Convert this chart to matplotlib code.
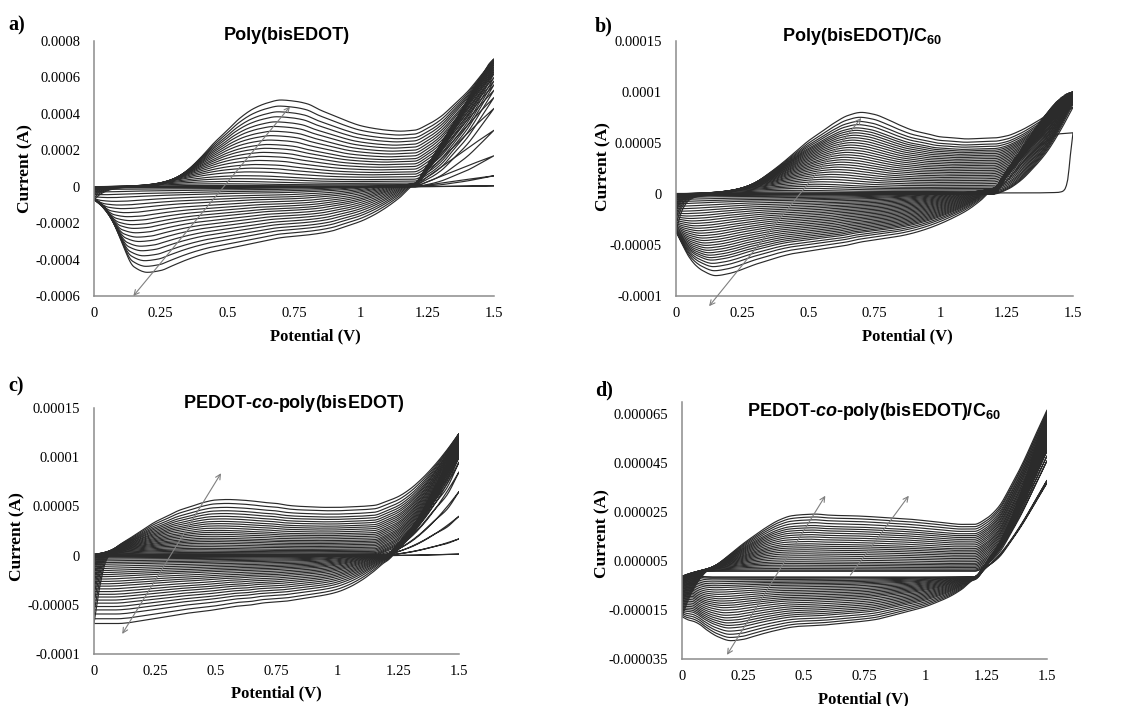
import numpy as np
import matplotlib
matplotlib.use('Agg')
import matplotlib.pyplot as plt

plt.rcParams['font.family'] = ['Liberation Serif', 'DejaVu Serif']
plt.rcParams['mathtext.fontset'] = 'custom'
plt.rcParams['mathtext.rm'] = 'Liberation Sans:bold'
plt.rcParams['mathtext.bf'] = 'Liberation Sans:bold'
plt.rcParams['mathtext.it'] = 'Liberation Sans:italic:bold'

# potentials (V) at which the outer (last) cycle was read
E_pts = [0, 0.025, 0.05, 0.075, 0.1, 0.15, 0.2, 0.25, 0.3, 0.35, 0.4, 0.45, 0.5, 0.55,
         0.6, 0.65, 0.7, 0.75, 0.8, 0.85, 0.9, 0.95, 1.0, 1.05, 1.1, 1.15, 1.2, 1.25,
         1.3, 1.35, 1.4, 1.45, 1.5]

# all currents in microamps
# a) Poly(bisEDOT): polymer part of last cycle, forward / reverse scan
a_fwd = [-70, -40, -22, -12, -6, -1, 3, 12, 40, 90, 160, 240, 310, 380, 430, 460, 476, 470,
         455, 420, 390, 360, 335, 320, 310, 305, 310, 315, 320, 325, 330, 335, 340]
a_rev = [-70, -100, -130, -200, -290, -440, -470, -460, -430, -400, -375, -355, -340, -325,
         -310, -295, -280, -272, -265, -255, -240, -215, -190, -155, -110, -55, 10, 30, 70,
         130, 200, 270, 340]
a_wf = [0] * 27 + [0.07, 0.18, 0.35, 0.53, 0.76, 1.0]   # monomer oxidation shape
a_wr = [0] * 27 + [0.16, 0.33, 0.5, 0.67, 0.84, 1.0]
a_k = [0, 0, 0, 0.015, 0.034, 0.061, 0.093, 0.127, 0.171, 0.214, 0.256, 0.303, 0.35, 0.396,
       0.443, 0.487, 0.538, 0.589, 0.64, 0.695, 0.748, 0.807, 0.864, 0.93, 1.0]
a_end = [5, 60, 170, 310, 430, 490, 530, 560, 580, 600, 620, 630, 640, 650, 660, 670, 680,
         680, 690, 690, 700, 700, 700, 700, 700]

# b) Poly(bisEDOT)/C60
b_fwd = [-36, -15, -6, -3, -2, -1, 1.5, 5, 11, 20, 30, 41, 52, 61, 70, 77, 80, 78, 73, 67,
         62, 59, 56, 55, 54, 54.5, 55, 55, 56, 57, 58, 59, 60]
b_rev = [-36, -50, -62, -70, -75, -80, -78, -74, -69, -65, -61, -58, -56, -54, -52, -50, -47,
         -45, -43, -41, -38, -34, -29, -23, -16, -6.5, 5, 10, 17, 25, 34, 46, 60]
b_wf = [0] * 27 + [0.05, 0.15, 0.3, 0.48, 0.72, 1.0]
b_wr = [0] * 27 + [0.2, 0.4, 0.6, 0.78, 0.92, 1.0]
b_k = [0.0, 0.01, 0.025, 0.045, 0.07, 0.095, 0.12, 0.15, 0.18, 0.21, 0.24, 0.27, 0.3, 0.33,
       0.36, 0.39, 0.42, 0.45, 0.48, 0.51, 0.54, 0.57, 0.6, 0.63, 0.66, 0.69, 0.72, 0.75,
       0.78, 0.81, 0.85, 0.89, 0.94, 1.0]
b_end = [85, 88, 90, 91, 92, 93, 93, 94, 94, 95, 95, 96, 96, 96, 97, 97, 97, 98, 98, 98, 98,
         99, 99, 99, 99, 100, 100, 100, 100, 100, 100, 100, 100, 100]
# first cycle of b) (nucleation loop)
b1_E_fwd = [0, 1.3, 1.44, 1.46, 1.47, 1.48, 1.49, 1.5]
b1_fwd = [0.5, 1, 1.5, 2.5, 5, 14, 38, 60]
b1_E_rev = [0, 1.15, 1.2, 1.25, 1.3, 1.35, 1.4, 1.45, 1.5]
b1_rev = [0, 0.5, 2.6, 13, 28, 41, 52, 59, 60]

# c) PEDOT-co-poly(bisEDOT)
c_fwd = [-69, -30, -5, 4, 10, 18, 26, 34, 40, 46, 50, 54, 56.5, 57, 56.5, 55.5, 54, 53, 51,
         50, 49.5, 49, 49, 49.5, 50, 51, 52, 53, 54, 55, 56, 57, 58]
c_rev = [-69, -69, -69, -69, -69, -68, -66, -64, -62, -60, -58, -56.5, -55, -53, -51, -50,
         -48, -47, -46, -44, -42, -40, -37, -32, -25, -16, -6, -0.6, 4.5, 11.6, 23.7, 39.5, 58]
c_wf = [0] * 26 + [0.045, 0.105, 0.21, 0.36, 0.545, 0.76, 1.0]
c_wr = [0] * 27 + [0.1, 0.22, 0.37, 0.55, 0.72, 1.0]
c_k = [0, 0, 0, 0, 0.01, 0.02, 0.035, 0.055, 0.08, 0.105, 0.13, 0.16, 0.19, 0.22, 0.25, 0.28,
       0.31, 0.345, 0.38, 0.415, 0.45, 0.49, 0.53, 0.57, 0.61, 0.655, 0.7, 0.75, 0.8, 0.86,
       0.93, 1.0]
c_end = [1.5, 17, 40, 65, 85, 95, 100, 103, 106, 108, 110, 112, 113, 114, 115, 116, 117, 118,
         119, 120, 120, 121, 121, 122, 122, 123, 123, 123, 124, 124, 124, 124]

# d) PEDOT-co-poly(bisEDOT)/C60
d_fwd = [-17.7, -11, -6, -2, 0.7, 4, 8, 12, 15.6, 19, 21.8, 23.5, 24, 24.2, 23.8, 23.6, 23.5,
         23.3, 23, 22.7, 22.4, 22, 21.5, 21, 20.4, 20, 20, 20, 20, 20, 20, 20, 20]
d_rev = [-17.7, -19, -19.7, -21, -23, -26, -27.5, -27, -25.6, -24.2, -23, -22, -21.5, -21.3,
         -21, -20.5, -20, -19.5, -18.8, -17.6, -16.3, -15, -13.6, -11.7, -9.5, -6.5, -2.7, -2,
         0.6, 2.7, 7.4, 13.6, 20]
d_wf = [0] * 27 + [0.05, 0.15, 0.33, 0.535, 0.77, 1.0]
d_wr = [0] * 27 + [0.1, 0.22, 0.38, 0.57, 0.78, 1.0]
d_k = [0, 0, 0.02, 0.045, 0.075, 0.105, 0.135, 0.165, 0.2, 0.235, 0.27, 0.305, 0.34, 0.375,
       0.41, 0.445, 0.48, 0.52, 0.56, 0.6, 0.64, 0.68, 0.72, 0.76, 0.8, 0.85, 0.9, 0.95, 1.0]
d_end = [37, 38, 46, 48, 50, 51, 52, 53, 54, 55, 56, 57, 58, 58, 59, 60, 60, 61, 62, 62, 63,
         63, 64, 64, 65, 65, 66, 66, 66.7]
d_base = (0.9, -1.6)   # first (blank) cycle, forward / reverse
d_base_shape = [-1.5, -0.6, 0.1, 0.6, 0.9, 1.0, 1.0] + [1.0] * 26

LINE = '#2b2b2b'


def pchip(xk, yk, x):
    xk = np.asarray(xk, float)
    yk = np.asarray(yk, float)
    h = np.diff(xk)
    d = np.diff(yk) / h
    m = np.zeros_like(yk)
    m[0] = d[0]
    m[-1] = d[-1]
    for i in range(1, len(xk) - 1):
        if d[i - 1] * d[i] > 0:
            w1 = 2 * h[i] + h[i - 1]
            w2 = h[i] + 2 * h[i - 1]
            m[i] = (w1 + w2) / (w1 / d[i - 1] + w2 / d[i])
    x = np.clip(x, xk[0], xk[-1])
    j = np.clip(np.searchsorted(xk, x) - 1, 0, len(xk) - 2)
    t = (x - xk[j]) / h[j]
    h00 = 2 * t**3 - 3 * t**2 + 1
    h10 = t**3 - 2 * t**2 + t
    h01 = -2 * t**3 + 3 * t**2
    h11 = t**3 - t**2
    return h00 * yk[j] + h10 * h[j] * m[j] + h01 * yk[j + 1] + h11 * h[j] * m[j + 1]


def draw_cycles(ax, fwd, rev, wf, wr, ks, ends, bw, cap, base=(0, 0), bshape=None):
    E = np.linspace(0, 1.5, 301)
    bf, br = base
    g = np.ones_like(E) if bshape is None else pchip(E_pts, bshape, E)
    for k, end in zip(ks, ends):
        s = min(cap, -bw * np.log(max(k, 1e-6)))  # small films peak earlier
        Es = np.minimum(E + s, 1.5)
        mf = end - (1 - k) * bf - k * fwd[-1]
        mr = end - (1 - k) * br - k * rev[-1]
        i_f = (1 - k) * bf * g + k * pchip(E_pts, fwd, Es) + mf * pchip(E_pts, wf, E)
        i_r = (1 - k) * br * np.abs(g) + k * pchip(E_pts, rev, Es) + mr * pchip(E_pts, wr, E)
        x = np.concatenate([E, E[::-1], [0]])
        y = np.concatenate([i_f, i_r[::-1], [i_f[0]]]) * 1e-6
        ax.plot(x, y, color=LINE, lw=0.85)


def style(ax, ylim, yticks, ylabels):
    ax.set_xlim(0, 1.5)
    ax.set_ylim(*ylim)
    ax.set_xticks([0, 0.25, 0.5, 0.75, 1, 1.25, 1.5])
    ax.set_xticklabels(['0', '0.25', '0.5', '0.75', '1', '1.25', '1.5'])
    ax.set_yticks(yticks)
    ax.set_yticklabels(ylabels)
    for sp in ['top', 'right']:
        ax.spines[sp].set_visible(False)
    for sp in ['left', 'bottom']:
        ax.spines[sp].set_color('#8c8c8c')
        ax.spines[sp].set_linewidth(1.1)
    ax.tick_params(axis='both', length=0, labelsize=10.5)
    ax.tick_params(axis='x', pad=8)
    ax.tick_params(axis='y', pad=10)


def arrow(ax, p0, p1, style_='<->'):
    ax.annotate('', xy=p1, xytext=p0, annotation_clip=False,
                arrowprops=dict(arrowstyle=style_, color='#808080', lw=0.8,
                                mutation_scale=9, shrinkA=0, shrinkB=0), zorder=5)


W, H = 1129, 706
fig = plt.figure(figsize=(W / 100, H / 100), dpi=100)


def px_axes(x0, x1, y0, y1):
    return fig.add_axes([x0 / W, (H - y1) / H, (x1 - x0) / W, (y1 - y0) / H])


ax_a = px_axes(94, 494, 41, 296)
ax_b = px_axes(676, 1073, 41, 296)
ax_c = px_axes(94, 459, 408, 654)
ax_d = px_axes(682, 1047, 402, 659)

draw_cycles(ax_a, a_fwd, a_rev, a_wf, a_wr, a_k, a_end, 0.07, 0.25)
draw_cycles(ax_b, b_fwd, b_rev, b_wf, b_wr, b_k, b_end, 0.08, 0.28)
Eb = np.linspace(0, 1.5, 301)
ax_b.plot(np.concatenate([Eb, Eb[::-1]]),
          np.concatenate([pchip(b1_E_fwd, b1_fwd, Eb), pchip(b1_E_rev, b1_rev, Eb)[::-1]]) * 1e-6,
          color=LINE, lw=0.85)
draw_cycles(ax_c, c_fwd, c_rev, c_wf, c_wr, c_k, c_end, 0.05, 0.2)
draw_cycles(ax_d, d_fwd, d_rev, d_wf, d_wr, d_k, d_end, 0.04, 0.15, base=d_base,
            bshape=d_base_shape)

style(ax_a, (-0.0006, 0.0008), [-0.0006, -0.0004, -0.0002, 0, 0.0002, 0.0004, 0.0006, 0.0008],
      ['-0.0006', '-0.0004', '-0.0002', '0', '0.0002', '0.0004', '0.0006', '0.0008'])
style(ax_b, (-0.0001, 0.00015), [-0.0001, -0.00005, 0, 0.00005, 0.0001, 0.00015],
      ['-0.0001', '-0.00005', '0', '0.00005', '0.0001', '0.00015'])
style(ax_c, (-0.0001, 0.00015), [-0.0001, -0.00005, 0, 0.00005, 0.0001, 0.00015],
      ['-0.0001', '-0.00005', '0', '0.00005', '0.0001', '0.00015'])
style(ax_d, (-0.000035, 0.00007), [-0.000035, -0.000015, 0.000005, 0.000025, 0.000045, 0.000065],
      ['-0.000035', '-0.000015', '0.000005', '0.000025', '0.000045', '0.000065'])

arrow(ax_a, (0.1475, -0.0006), (0.735, 0.00044))
arrow(ax_b, (0.125, -0.00011), (0.70, 0.0000745))
arrow(ax_c, (0.116, -0.0000796), (0.522, 0.0000837))
arrow(ax_d, (0.185, -0.0000333), (0.589, 0.0000317))
arrow(ax_d, (0.692, -0.0000007), (0.932, 0.0000317), '->')

titles = [(ax_a, 'Poly(bisEDOT)', 0.4825, 1.02),
          (ax_b, r'Poly(bisEDOT)/C$_{\mathbf{60}}$', 0.468, 1.017),
          (ax_c, r'PEDOT-$\mathit{co}$-poly(bisEDOT)', 0.546, 1.019),
          (ax_d, r'PEDOT-$\mathit{co}$-poly(bisEDOT)/C$_{\mathbf{60}}$', 0.526, 0.962)]
for ax, t, x, y in titles:
    ax.text(x, y, t, transform=ax.transAxes, ha='center', va='center',
            family='Liberation Sans', fontweight='bold', fontsize=13)

ylab = [(ax_a, -0.1725, 0.50), (ax_b, -0.184, 0.506), (ax_c, -0.211, 0.476), (ax_d, -0.219, 0.49)]
for ax, x, y in ylab:
    ax.text(x, y, 'Current (A)', transform=ax.transAxes, rotation=90, ha='center',
            va='center', fontweight='bold', fontsize=12.5)
xlab = [(ax_a, 0.5525, -0.157), (ax_b, 0.584, -0.157), (ax_c, 0.501, -0.159), (ax_d, 0.496, -0.156)]
for ax, x, y in xlab:
    ax.text(x, y, 'Potential (V)', transform=ax.transAxes, ha='center', va='center',
            fontweight='bold', fontsize=12)

for lab, x, y in [('a)', 8, 25), ('b)', 595, 26), ('c)', 8, 386), ('d)', 595, 390)]:
    fig.text(x / W, 1 - y / H, lab, ha='left', va='center', fontweight='bold', fontsize=14.5)

fig.savefig('out.png', dpi=100)
